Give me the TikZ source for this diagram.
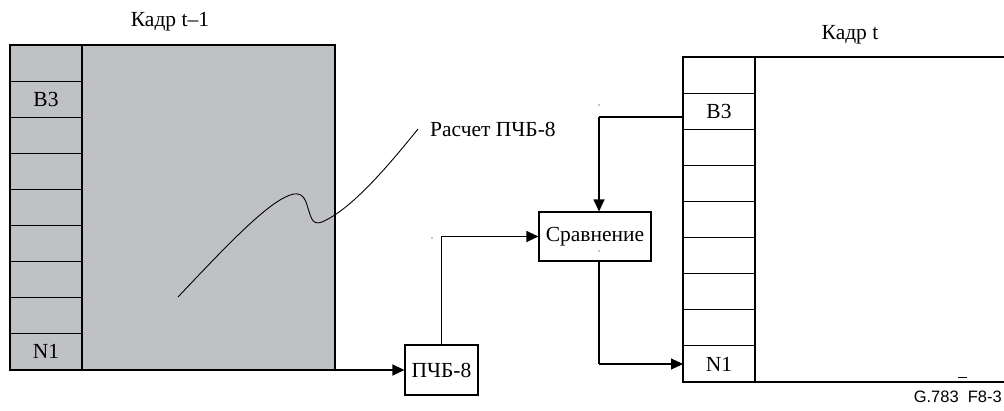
\documentclass[tikz,border=0pt]{standalone}
\usepackage{fontspec}
\setmainfont{Liberation Serif}
\newfontfamily\labsans{Liberation Sans}
\usetikzlibrary{arrows.meta}
\definecolor{framegray}{RGB}{192,193,197}
\tikzset{
  ln/.style={line width=1.1pt, draw=black},
  arr/.style={ln, -{Triangle[length=12pt,width=11pt]}},
  boxnode/.style={ln, draw, fill=white, minimum width=#1, inner sep=0pt},
  lbl/.style={font=\fontsize{21.5}{25}\selectfont, inner sep=0pt},
  speck/.style={fill=black, inner sep=0pt, minimum size=1.2pt, circle},
}
\begin{document}
\begin{tikzpicture}[x=1pt,y=-1pt]
\useasboundingbox (0,0) rectangle (1004,410);
% ---------- left frame (t-1)
\fill[framegray] (10,45) rectangle (335,370);
\draw[ln] (10,45) rectangle (335,370);
\draw[ln] (82,45) -- (82,370);
\foreach \k in {1,...,8} {
  \draw[ln] (10,{45+36.11*\k}) -- (82,{45+36.11*\k});
}
\node[lbl] (lb3) at (46,99) {B3};
\node[lbl] (ln1) at (46,351.5) {N1};
\node[lbl] (ltitle) at (170,22) {Кадр t–1};
% ---------- right frame (t)
\draw[ln] (1004,57) -- (683,57) -- (683,382) -- (1004,382);
\draw[ln] (755,57) -- (755,382);
\foreach \k in {1,...,8} {
  \draw[ln] (683,{57+36.11*\k}) -- (755,{57+36.11*\k});
}
\node[lbl] (rb3) at (719,111) {B3};
\node[lbl] (rn1) at (719,364) {N1};
\node[lbl] (rtitle) at (850,35) {Кадр t};
% ---------- boxes
\node[boxnode=73pt, minimum height=50pt, lbl] (p8) at (441.5,370) {ПЧБ-8};
\node[boxnode=112pt, minimum height=49pt, lbl] (cmp) at (595,236.5) {Сравнение};
% ---------- connection points
\coordinate (lout) at (335,370);
\coordinate (rb3in) at (683,117);
\coordinate (rn1in) at (683,364);
\coordinate (b3turn) at (599,117);
\coordinate (n1turn) at (599,364);
% ---------- connectors
\draw[arr] (lout) -- (p8.west);
\draw[arr] (p8.north) |- (cmp.west);
\draw[ln] (rb3in) -- (b3turn);
\draw[arr] (b3turn) -- (b3turn |- cmp.north);
\draw[ln] (cmp.south -| n1turn) -- (n1turn);
\draw[arr] (n1turn) -- (rn1in);
% ---------- calculation curve and label
\node[lbl, anchor=west] (calc) at (430,129) {Расчет ПЧБ-8};
\coordinate (cstart) at (178,297);
\coordinate (cend) at (418,129);
\draw[ln, line width=0.9pt] (cstart) .. controls (215,258) and (255,215) .. (280,200)
  .. controls (295,191) and (302,192) .. (306,202)
  .. controls (311,216) and (311,226) .. (322,222)
  .. controls (350,210) and (385,170) .. (cend);
% ---------- stray specks
\node[speck] (s1) at (432,238) {};
\node[speck] (s2) at (599,105) {};
\node[speck] (s3) at (599,251) {};
\draw[ln, line width=0.8pt] (958,377) -- (967,377);
% ---------- reference
\node[anchor=east, inner sep=0pt, font=\labsans\fontsize{16.5}{19}\selectfont] (ref) at (1002,397) {G.783\ \ F8-3};
\end{tikzpicture}
\end{document}
